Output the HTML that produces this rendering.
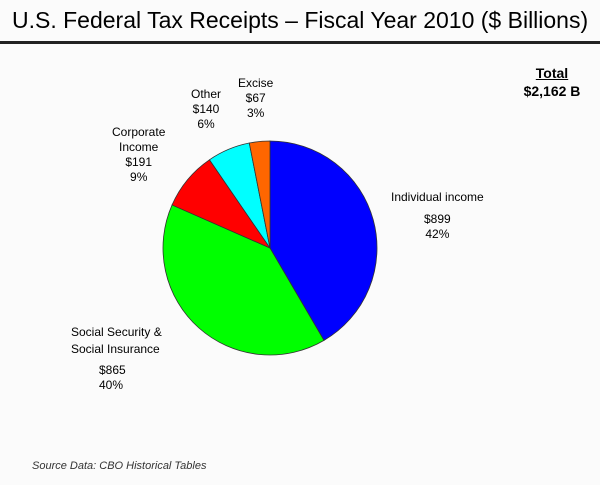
<!DOCTYPE html>
<html><head><meta charset="utf-8">
<style>
body{margin:0;width:600px;height:485px;background:#fbfbfb;font-family:"Liberation Sans",sans-serif;position:relative;overflow:hidden}
.t{position:absolute;color:#000;font-size:12px;line-height:15px}
</style></head><body>
<div class="t" style="left:12px;top:6px;font-size:23px;line-height:28px">U.S. Federal Tax Receipts – Fiscal Year 2010 ($ Billions)</div>
<div style="position:absolute;left:0;top:41px;width:600px;height:3px;background:#222"></div>
<div class="t" style="left:520px;top:64px;font-size:14px;line-height:18px;font-weight:bold;text-align:center;width:76px;margin-left:-6px"><u>Total</u><br>$2,162 B</div>
<div class="t" style="left:238px;top:76px;text-align:center">Excise<br>$67<br>3%</div>
<div class="t" style="left:191px;top:87px;text-align:center">Other<br>$140<br>6%</div>
<div class="t" style="left:112px;top:125px;text-align:center">Corporate<br>Income<br>$191<br>9%</div>
<div class="t" style="left:391px;top:190px;text-align:center;line-height:15px">Individual income<div style="height:7px"></div>$899<br>42%</div>
<div class="t" style="left:71px;top:324px;line-height:17px">Social Security &amp;<br>Social Insurance<div style="height:5px"></div><div style="margin-left:28px;line-height:15px">$865<br>40%</div></div>
<div class="t" style="left:32px;top:459px;font-style:italic;font-size:11px;color:#333">Source Data: CBO Historical Tables</div>
<svg id="pie" width="600" height="485" style="position:absolute;left:0;top:0"></svg>
<script>
const categories=["Individual income","Social Security & Social Insurance","Corporate Income","Other","Excise"];
const values=[899,865,191,140,67];
const colors=["#0000ff","#00ff00","#ff0000","#00ffff","#ff6600"];
const cx=270,cy=248,r=107;
const svg=document.getElementById('pie');
const total=values.reduce((a,b)=>a+b,0);
let a0=0;
values.forEach((v,i)=>{
  const a1=a0+v/total*2*Math.PI;
  const x0=cx+r*Math.sin(a0),y0=cy-r*Math.cos(a0);
  const x1=cx+r*Math.sin(a1),y1=cy-r*Math.cos(a1);
  const large=(a1-a0)>Math.PI?1:0;
  const p=document.createElementNS('http://www.w3.org/2000/svg','path');
  p.setAttribute('d',`M${cx},${cy}L${x0},${y0}A${r},${r} 0 ${large} 1 ${x1},${y1}Z`);
  p.setAttribute('fill',colors[i]);
  p.setAttribute('stroke','#333');
  p.setAttribute('stroke-width','0.8');
  
  
  svg.appendChild(p);
  a0=a1;
});
</script>
</body></html>
